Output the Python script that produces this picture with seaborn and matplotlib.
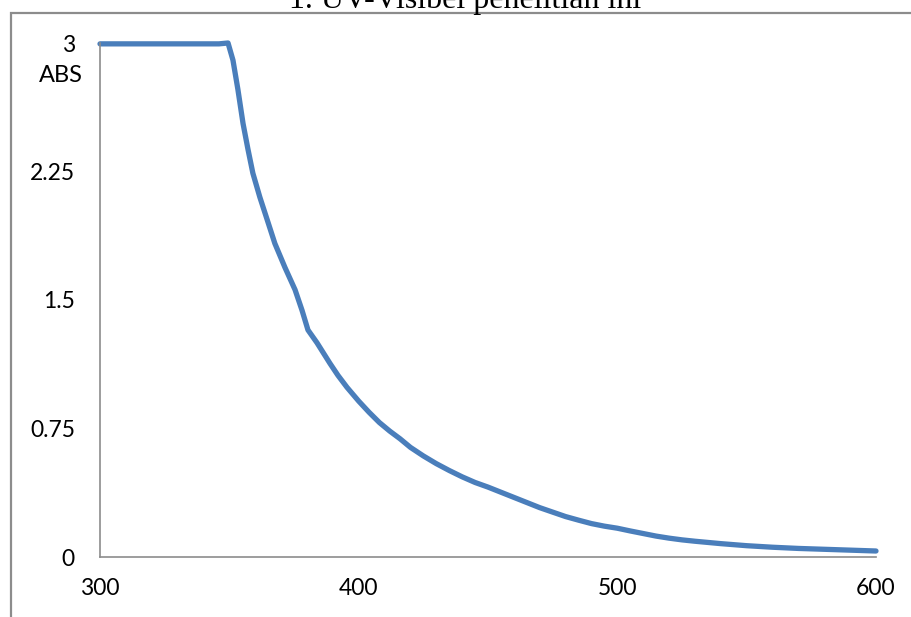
import matplotlib
matplotlib.use("Agg")
import matplotlib.pyplot as plt
from matplotlib.patches import Rectangle
import pandas as pd
import seaborn as sns

# UV-Vis absorbance spectrum (wavelength in nm, absorbance)
wavelength = [300, 310, 320, 330, 340, 346, 349.5, 351.4, 353.3, 355.3, 357.2,
              359.1, 361.8, 364.6, 367.6, 371.5, 375.4, 378.1, 380.4, 383.9,
              388.9, 392, 395.5, 400, 404, 408, 412, 416, 420, 425, 430, 435,
              440, 445, 450, 455, 460, 465, 470, 475, 480, 485, 490, 495, 500,
              505, 510, 515, 520, 525, 530, 540, 550, 560, 570, 580, 590, 600]
absorbance = [2.995, 2.995, 2.995, 2.995, 2.995, 2.995, 3.0, 2.90, 2.73, 2.53,
              2.38, 2.24, 2.10, 1.97, 1.83, 1.69, 1.56, 1.44, 1.325, 1.25,
              1.13, 1.06, 0.99, 0.91, 0.845, 0.785, 0.735, 0.69, 0.64, 0.59,
              0.545, 0.505, 0.468, 0.435, 0.408, 0.378, 0.348, 0.318, 0.288,
              0.262, 0.236, 0.215, 0.195, 0.18, 0.168, 0.152, 0.137, 0.122,
              0.11, 0.10, 0.092, 0.078, 0.066, 0.057, 0.05, 0.045, 0.04, 0.035]

x_ticks = [300, 400, 500, 600]
y_ticks = [0, 0.75, 1.5, 2.25, 3]
y_tick_labels = ["0", "0.75", "1.5", "2.25", "3"]

sns.set_style("white")
plt.rcParams["font.family"] = ["Lato", "DejaVu Sans"]

W, H = 912, 617
fig = plt.figure(figsize=(W / 100, H / 100), dpi=100)
fig.patch.set_facecolor("white")

# chart-area border (runs off the right and bottom of the page)
fig.add_artist(Rectangle((11 / W, -0.05), 1.2, (H - 13) / H + 0.05,
                         transform=fig.transFigure, fill=False,
                         edgecolor="#8c8c8c", linewidth=1.6))

ax = fig.add_axes([100 / W, 1 - 557 / H, (876 - 100) / W, (557 - 43) / H])
ax.set_facecolor("none")

df = pd.DataFrame({"wavelength": wavelength, "absorbance": absorbance})
sns.lineplot(data=df, x="wavelength", y="absorbance", ax=ax,
             color="#4a7ebb", linewidth=3.8, clip_on=False,
             solid_capstyle="round", solid_joinstyle="round")

ax.set_xlim(300, 600)
ax.set_ylim(0, 3)
ax.set_xticks(x_ticks)
ax.set_yticks(y_ticks)
ax.set_yticklabels(y_tick_labels)
ax.set_xlabel("")
ax.set_ylabel("")

for side in ("top", "right"):
    ax.spines[side].set_visible(False)
for side in ("left", "bottom"):
    ax.spines[side].set_color("#8c8c8c")
    ax.spines[side].set_linewidth(1.2)

ax.tick_params(axis="both", which="major", direction="out", length=6,
               width=1.2, color="#8c8c8c", labelsize=16.5, labelcolor="#000000")
ax.tick_params(axis="y", pad=12)
ax.tick_params(axis="x", pad=9)

# axis title placed under the top tick label
fig.text(83 / W, 1 - 76 / H, "ABS", ha="right", va="center",
         fontsize=17, color="#000000")

# caption line above the chart, partly cut by the page edge
fig.text(465 / W, 1 - 8 / H, "1. UV-Visibel penelitian ini", ha="center",
         va="baseline", fontsize=23, family=["Liberation Serif"],
         color="#000000")

fig.savefig("out.png", dpi=100, facecolor="white")
